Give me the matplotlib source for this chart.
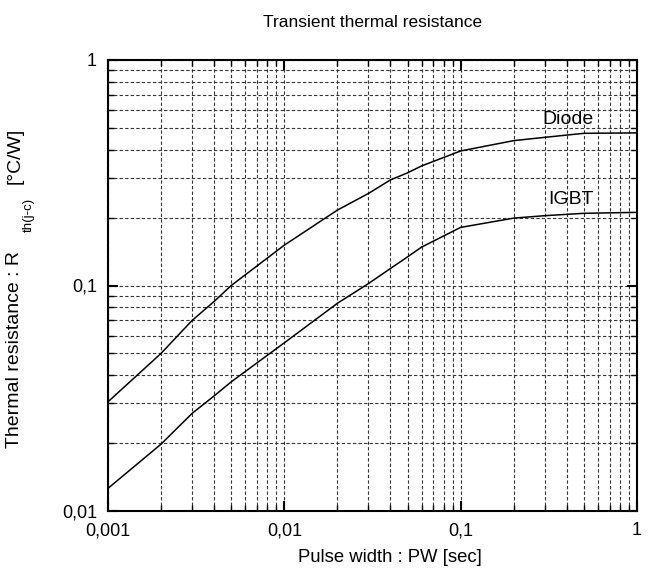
import matplotlib
matplotlib.use("Agg")
import matplotlib.pyplot as plt
from matplotlib.ticker import FixedLocator, LogLocator, NullFormatter, FuncFormatter

plt.rcParams['font.family'] = ['Liberation Sans', 'DejaVu Sans']

# pulse width [s] and transient thermal resistance [°C/W]
pulse_width = [0.001, 0.002, 0.003, 0.004, 0.005, 0.01, 0.02, 0.03, 0.04,
               0.05, 0.06, 0.1, 0.2, 0.3, 0.5, 1.0]
diode_zth = [0.0305, 0.050, 0.070, 0.085, 0.100, 0.151, 0.216, 0.256, 0.294,
             0.316, 0.339, 0.395, 0.439, 0.454, 0.473, 0.475]
igbt_zth = [0.0126, 0.0198, 0.0271, 0.0324, 0.0374, 0.0557, 0.0834, 0.102, 0.119,
            0.134, 0.148, 0.181, 0.199, 0.204, 0.209, 0.211]

x_ticks = [0.001, 0.01, 0.1, 1]
x_tick_labels = ["0,001", "0,01", "0,1", "1"]
y_ticks = [0.01, 0.1, 1]
y_tick_labels = ["0,01", "0,1", "1"]


def comma_fmt(labels, ticks):
    lookup = dict(zip(ticks, labels))
    return FuncFormatter(lambda v, pos: lookup.get(round(v, 6), ""))


W, H = 650, 571
fig = plt.figure(figsize=(W / 100, H / 100), dpi=100)
ax = fig.add_axes([108 / W, 1 - 511 / H, (637 - 108) / W, (511 - 60) / H])

ax.plot(pulse_width, diode_zth, color="black", lw=1.1)
ax.plot(pulse_width, igbt_zth, color="black", lw=1.1)

ax.set_xscale("log")
ax.set_yscale("log")
ax.set_xlim(0.001, 1)
ax.set_ylim(0.01, 1)

ax.xaxis.set_major_locator(FixedLocator(x_ticks))
ax.yaxis.set_major_locator(FixedLocator(y_ticks))
ax.xaxis.set_major_formatter(comma_fmt(x_tick_labels, x_ticks))
ax.yaxis.set_major_formatter(comma_fmt(y_tick_labels, y_ticks))
ax.xaxis.set_minor_locator(LogLocator(base=10, subs=range(2, 10)))
ax.yaxis.set_minor_locator(LogLocator(base=10, subs=range(2, 10)))
ax.xaxis.set_minor_formatter(NullFormatter())
ax.yaxis.set_minor_formatter(NullFormatter())

ax.tick_params(which="both", direction="in", top=True, right=True,
               labelsize=13, color="black")
ax.tick_params(which="major", length=7, width=1.5, pad=8)
ax.tick_params(which="minor", length=4, width=1.0)

ax.grid(True, which="both", color="#333333", linestyle=(0, (3, 2)), lw=0.8)
for sp in ax.spines.values():
    sp.set_linewidth(1.5)

ax.text(0.406, 0.545, "Diode", fontsize=14, ha="center", va="center")
ax.text(0.42, 0.240, "IGBT", fontsize=14, ha="center", va="center")

ax.set_title("Transient thermal resistance", fontsize=12.5, pad=24)
ax.set_xlabel("Pulse width : PW [sec]", fontsize=13.3, labelpad=9)
ax.xaxis.set_label_coords((390 - 108) / 529, -0.085)

# y label in three pieces: main text, lowered subscript, unit
fig.text(15 / W, 1 - 349 / H, "Thermal resistance : R", rotation=90,
         fontsize=14, ha="center", va="center")
fig.text(29 / W, 1 - 215 / H, "th(j-c)", rotation=90,
         fontsize=9.5, ha="center", va="center")
fig.text(15 / W, 1 - 156 / H, "[°C/W]", rotation=90,
         fontsize=14, ha="center", va="center")

fig.savefig("out.png", dpi=100)
